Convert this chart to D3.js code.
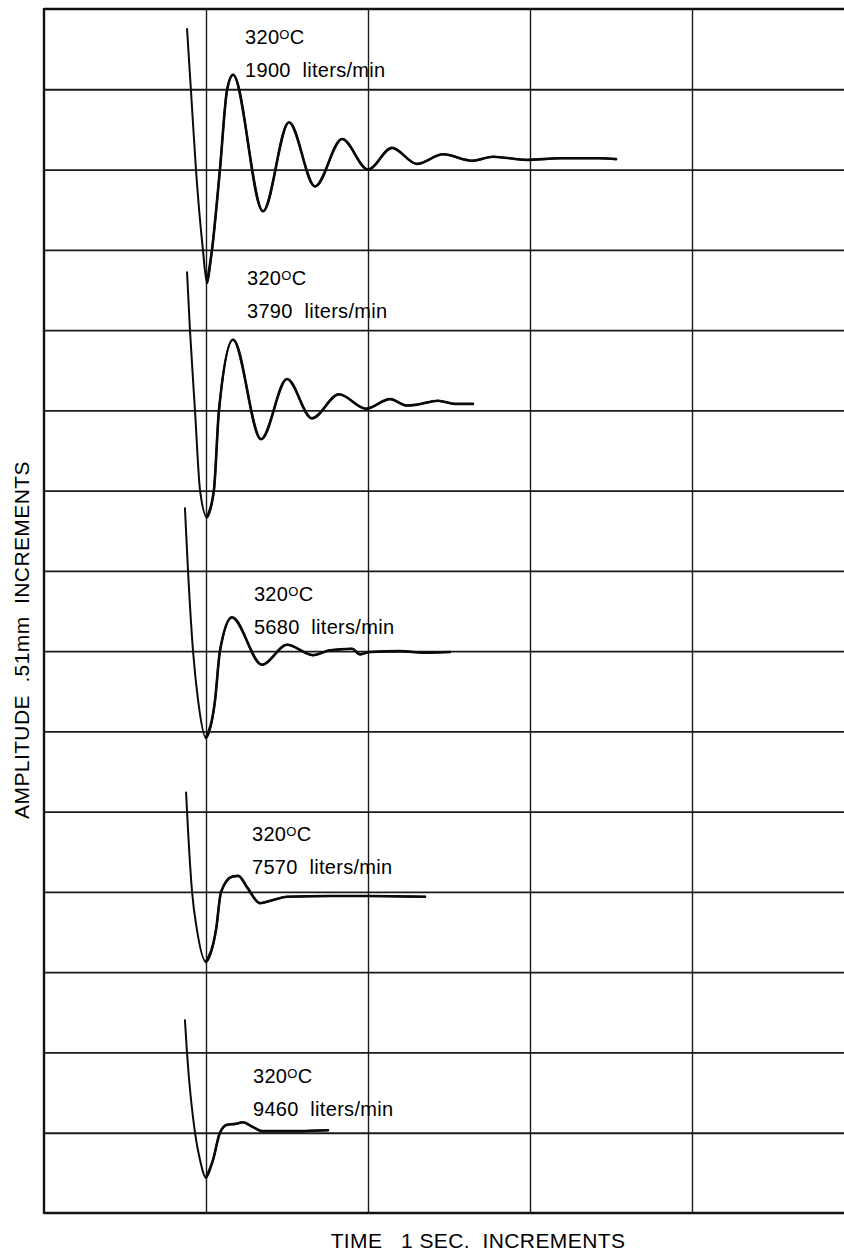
<!DOCTYPE html>
<html lang="en">
<head>
<meta charset="UTF-8">
<title>Damped response traces at 320 C</title>
<script src="https://d3js.org/d3.v7.min.js"></script>
<style>
  body { margin: 0; background: #fff; }
  text { font-family: "Liberation Sans", Arial, Helvetica, sans-serif; fill: #000; white-space: pre; }
  .grid line { stroke: #1a1a1a; }
  .grid path { display: none; }
  .frame { stroke: #111; stroke-width: 2.4; }
  .trace { fill: none; stroke: #0a0a0a; stroke-linejoin: round; stroke-linecap: round; }
  .label { font-size: 20px; letter-spacing: 0.3px; }
  .axis-title { font-size: 21px; letter-spacing: 0.4px; }
</style>
</head>
<body>
<svg id="chart" width="844" height="1254"></svg>
<script>
  // Flow rates in liters/min, every run at 320 C
  const flows = [1900, 3790, 5680, 7570, 9460];
  const temperature = 320;
  // Rest level of each trace, in .51mm increments up from the bottom of the chart
  const baselines = [13, 10, 7, 4, 1];

  // Traces: [time in s from the left edge, amplitude in increments from rest level]
  const trace1900 = [
    [0.883, 1.75], [0.907, 0.99], [0.938, 0], [0.981, -1.0], [1.006, -1.41],
    [1.037, -1.0], [1.086, 0], [1.130, 0.99], [1.167, 1.18], [1.352, -0.52],
    [1.512, 0.59], [1.673, -0.21], [1.840, 0.38], [2.000, 0], [2.148, 0.27],
    [2.302, 0.07], [2.463, 0.19], [2.642, 0.11], [2.772, 0.16], [2.981, 0.12],
    [3.185, 0.14], [3.432, 0.14], [3.531, 0.13]
  ];
  const trace3790 = [
    [0.883, 1.72], [0.901, 1.0], [0.932, 0], [0.963, -0.99], [1.006, -1.33],
    [1.049, -0.99], [1.080, 0], [1.167, 0.88], [1.340, -0.36], [1.500, 0.39],
    [1.654, -0.10], [1.821, 0.20], [1.988, 0.02], [2.136, 0.14], [2.240, 0.06],
    [2.300, 0.07], [2.432, 0.12], [2.537, 0.08], [2.648, 0.08]
  ];
  const trace5680 = [
    [0.870, 1.78], [0.889, 1.0], [0.920, 0], [0.951, -0.61], [1.000, -1.08],
    [1.056, -0.61], [1.086, 0], [1.160, 0.42], [1.346, -0.17], [1.500, 0.08],
    [1.660, -0.05], [1.765, 0.01], [1.901, 0.03], [1.951, -0.04], [2.012, -0.01],
    [2.198, 0], [2.352, -0.02], [2.506, -0.01]
  ];
  const trace7570 = [
    [0.877, 1.24], [0.883, 1.0], [0.914, 0], [0.944, -0.47], [1.000, -0.87],
    [1.062, -0.47], [1.093, 0], [1.160, 0.19], [1.200, 0.20], [1.253, 0.06],
    [1.333, -0.14], [1.414, -0.10], [1.500, -0.06], [1.765, -0.05], [2.000, -0.05],
    [2.352, -0.06]
  ];
  const trace9460 = [
    [0.870, 1.40], [0.883, 0.99], [0.932, 0], [0.963, -0.34], [1.000, -0.56],
    [1.043, -0.34], [1.086, 0], [1.130, 0.10], [1.179, 0.11], [1.228, 0.13],
    [1.290, 0.07], [1.346, 0.02], [1.580, 0.02], [1.753, 0.03]
  ];
  const traces = [trace1900, trace3790, trace5680, trace7570, trace9460];

  const rows = 15;      // .51mm increments up the chart
  const seconds = 5;    // 1 s columns (last one runs off the page)

  const plotLeft = 44, plotTop = 9, plotBottom = 1213, colWidth = 162;
  const svg = d3.select("#chart");

  const x = d3.scaleLinear().domain([0, seconds]).range([plotLeft, plotLeft + seconds * colWidth]);
  const y = d3.scaleLinear().domain([0, rows]).range([plotBottom, plotTop]);

  // Grid
  svg.append("g")
    .attr("class", "grid")
    .attr("transform", "translate(" + plotLeft + ",0)")
    .call(d3.axisLeft(y).tickValues(d3.range(1, rows)).tickSize(-(x(seconds) - plotLeft)).tickFormat(""))
    .selectAll("line").attr("stroke-width", 1.8);

  svg.append("g")
    .attr("class", "grid")
    .attr("transform", "translate(0," + plotBottom + ")")
    .call(d3.axisBottom(x).tickValues(d3.range(1, seconds)).tickSize(-(plotBottom - plotTop)).tickFormat(""))
    .selectAll("line").attr("stroke-width", 1.4);

  // Frame (right edge is off the page)
  svg.append("line").attr("class", "frame")
    .attr("x1", plotLeft).attr("x2", x(seconds)).attr("y1", y(rows)).attr("y2", y(rows));
  svg.append("line").attr("class", "frame")
    .attr("x1", plotLeft).attr("x2", x(seconds)).attr("y1", y(0)).attr("y2", y(0));
  svg.append("line").attr("class", "frame")
    .attr("x1", plotLeft).attr("x2", plotLeft).attr("y1", y(rows) - 1).attr("y2", y(0) + 1);

  // Traces: the fast downward pen stroke is lighter, the ring-down after the dip is heavier
  traces.forEach((trace, i) => {
    const line = d3.line()
      .x(d => x(d[0]))
      .y(d => y(baselines[i] + d[1]))
      .curve(d3.curveMonotoneX);
    const dip = d3.minIndex(trace, d => d[1]);
    svg.append("path")
      .datum(trace)
      .attr("class", "trace")
      .attr("stroke-width", 2.0)
      .attr("d", line);
    svg.append("path")
      .datum(trace.slice(dip))
      .attr("class", "trace")
      .attr("stroke-width", 2.6)
      .attr("d", line);
  });

  // Labels beside each trace
  const labelAt = [
    { t: 1.241, lift: 1.57 },
    { t: 1.253, lift: 1.56 },
    { t: 1.296, lift: 0.62 },
    { t: 1.284, lift: 0.63 },
    { t: 1.290, lift: 0.62 }
  ];

  flows.forEach((flow, i) => {
    const px = x(labelAt[i].t);
    const py = y(baselines[i] + labelAt[i].lift);
    const temp = svg.append("text")
      .attr("class", "label")
      .attr("x", px)
      .attr("y", py);
    temp.append("tspan").text(temperature);
    temp.append("tspan").attr("font-size", 13).attr("dy", -5).text("O");
    temp.append("tspan").attr("dy", 5).text("C");

    svg.append("text")
      .attr("class", "label")
      .attr("x", px)
      .attr("y", py + 33)
      .text(flow + "  liters/min");
  });

  // Axis titles
  svg.append("text")
    .attr("class", "axis-title")
    .attr("transform", "rotate(-90)")
    .attr("x", -640)
    .attr("y", 29)
    .style("text-anchor", "middle")
    .text("AMPLITUDE  .51mm  INCREMENTS");

  svg.append("text")
    .attr("class", "axis-title")
    .attr("x", 478)
    .attr("y", 1248)
    .style("text-anchor", "middle")
    .text("TIME   1 SEC.  INCREMENTS");
</script>
</body>
</html>
